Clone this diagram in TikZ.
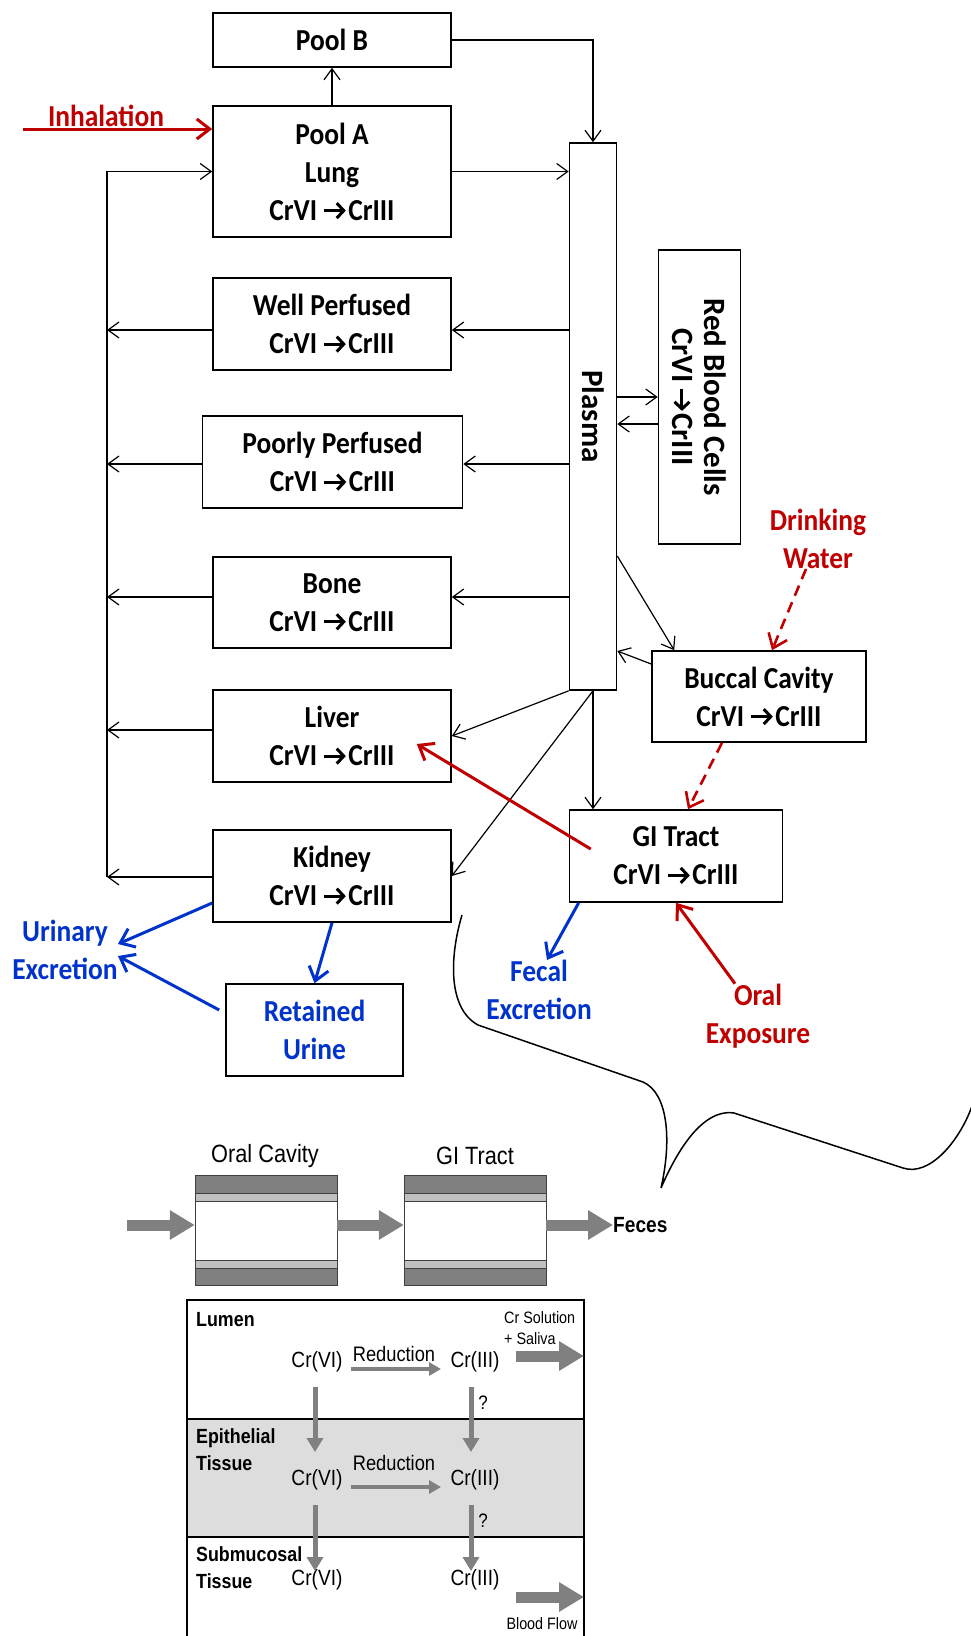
\documentclass[tikz,border=0pt]{standalone}
\usepackage{fontspec}
\usetikzlibrary{arrows.meta,calc}
\newfontfamily\calb[FakeStretch=0.9]{Carlito}
\newfontfamily\calr{Carlito}
\newfontfamily\arn[FakeStretch=0.87]{Liberation Sans}
\definecolor{cred}{RGB}{192,0,0}
\definecolor{cblue}{RGB}{0,51,204}
\definecolor{gA}{RGB}{128,128,128}
\definecolor{gB}{RGB}{192,192,192}
\definecolor{gC}{RGB}{221,221,221}
\newcommand{\myarr}{\tikz[baseline=0pt,x=1pt,y=1pt]{\draw[line width=3pt,-{Straight Barb[length=7pt,width=15pt,line width=3pt]}] (0,9.5) -- (22,9.5);}}
\newcommand{\crx}{CrVI\hspace{5pt}\myarr\hspace{1pt}CrIII}
\begin{document}
\begin{tikzpicture}[x=1pt,y=-1pt,
  tfont/.style={font=\calb\bfseries\fontsize{30.5}{38}\selectfont},
  box/.style={draw, line width=1.6pt, inner sep=0pt, align=center, tfont},
  lab/.style={inner sep=0pt, align=center, tfont},
  arr/.style={line width=1.2pt, -{Straight Barb[length=11pt,width=16pt]}},
  redarr/.style={draw=cred, line width=3pt, -{Straight Barb[length=13pt,width=20pt]}},
  bluearr/.style={draw=cblue, line width=3pt, -{Straight Barb[length=13pt,width=20pt]}},
  dasharr/.style={draw=cred, line width=2.6pt, dash pattern=on 11pt off 7pt, -{Straight Barb[length=13pt,width=20pt]}},
  fat/.style={draw=gA, line width=11pt, -{Triangle[length=25pt,width=28pt]}},
  garr/.style={draw=gA, line width=4pt, -{Triangle[length=12pt,width=13pt]}},
  gdn/.style={draw=gA, line width=5pt, -{Triangle[length=14pt,width=16pt]}},
  atext/.style={inner sep=0pt, font=\arn\fontsize{22}{26}\selectfont},
  abold/.style={inner sep=0pt, anchor=west, align=left, font=\arn\bfseries\fontsize{20.5}{27}\selectfont},
]
\useasboundingbox (0,0) rectangle (970,1636);
\fill[white] (0,0) rectangle (970,1636);

% ---------- boxes ----------
\node[box, minimum width=238pt, minimum height=54pt] (pb) at (332,40) {Pool B};
\node[box, minimum width=238pt, minimum height=131pt] (pa) at (332,171.5) {Pool A\\Lung\\\crx};
\node[box, minimum width=238pt, minimum height=92pt] (wp) at (332,324) {Well Perfused\\\crx};
\node[box, minimum width=260pt, minimum height=92pt] (pp) at (332.5,462) {Poorly Perfused\\\crx};
\node[box, minimum width=238pt, minimum height=91pt] (bo) at (332,602.5) {Bone\\\crx};
\node[box, minimum width=238pt, minimum height=92pt] (li) at (332,736) {Liver\\\crx};
\node[box, minimum width=238pt, minimum height=92pt] (ki) at (332,876) {Kidney\\\crx};
\node[draw, line width=1.6pt, inner sep=0pt, minimum width=47pt, minimum height=547pt] (pl) at (593,416.5) {};
\node[rotate=-90, inner sep=0pt, font=\calr\bfseries\fontsize{31}{32.5}\selectfont] at (pl.center) {Plasma};
\node[draw, line width=1.6pt, inner sep=0pt, minimum width=82pt, minimum height=294pt] (rbc) at (699.5,397) {};
\node[rotate=-90, inner sep=0pt, align=center, font=\calr\bfseries\fontsize{31}{32.5}\selectfont] at (rbc.center) {Red Blood Cells\\\crx};
\node[box, minimum width=214pt, minimum height=91pt] (bc) at (759,696.5) {Buccal Cavity\\\crx};
\node[box, minimum width=213pt, minimum height=92pt] (gi) at (676,856) {GI Tract\\\crx};
\node[box, text=cblue, minimum width=177pt, minimum height=92pt] (ru) at (314.5,1030) {Retained\\Urine};

% ---------- labels ----------
\node[lab, text=cred] (inh) at (106,116) {Inhalation};
\node[lab, text=cred] (dw) at (818,539) {Drinking\\Water};
\node[lab, text=cblue] (ue) at (65,950) {Urinary\\Excretion};
\node[lab, text=cblue] (fe) at (539,990) {Fecal\\Excretion};
\node[lab, text=cred] (oe) at (758,1016) {Oral\\Exposure};

% ---------- black connectors ----------
\draw[arr] (pa.north) -- (pb.south);
\draw[arr] (pb.east) -| (pl.north);
\draw[arr] (pa.east) -- (pa.east -| pl.west);
\coordinate (bt) at (107,171.5);
\coordinate (bb) at (107,877);
\draw[arr] (bb) -- (bt) -- (pa.west);
\foreach \n/\s in {wp/-6,pp/-2,bo/5.5,li/6,ki/-1}{
  \coordinate (tw) at ([yshift=\s pt]\n.west);
  \draw[arr] (tw) -- (tw -| bt);
}
\foreach \n/\s in {wp/-6,pp/-2,bo/5.5}{
  \coordinate (te) at ([yshift=\s pt]\n.east);
  \draw[arr] (te -| pl.west) -- (te);
}
\draw[arr] (pl.south west) -- (li.east);
\draw[arr] (pl.south) -- (ki.east);
\draw[arr] (pl.south) -- (pl.south |- gi.north);
\draw[arr] (rbc.west -| pl.east) -- (rbc.west);
\coordinate (r2) at ([yshift=-27pt]rbc.west);
\draw[arr] (r2) -- (r2 -| pl.east);
\draw[arr] ([yshift=-139.5pt]pl.east) -- ([xshift=23pt]bc.north west);
\draw[arr] ([yshift=32.5pt]bc.west) -- ([yshift=-234.5pt]pl.east);

% ---------- coloured connectors ----------
\coordinate (ih) at (23,129);
\draw[redarr] (ih) -- ([yshift=42.5pt]pa.west);
\draw[dasharr] ([xshift=-12pt]dw.south) -- ([xshift=13pt]bc.north);
\draw[dasharr] ([xshift=-37pt]bc.south) -- ([xshift=12pt]gi.north);
\draw[redarr] ([xshift=22pt,yshift=7pt]gi.west) -- ([xshift=-35pt,yshift=-8pt]li.east);
\draw[redarr] ([xshift=-23pt]oe.north) -- (gi.south);
\draw[bluearr] ([yshift=-27pt]ki.west) -- ([yshift=6pt]ue.east);
\draw[bluearr] ([xshift=-6pt,yshift=20pt]ru.west) -- ([yshift=-6pt]ue.east);
\draw[bluearr] (ki.south) -- (ru.north);
\draw[bluearr] ([xshift=10pt]gi.south west) -- ([xshift=8pt]fe.north);

% ---------- callout curve ----------
\draw[line width=1.5pt] (462,915) .. controls (450,955) and (447,1008) .. (478,1025)
  -- (643,1082) .. controls (668,1093) and (672,1140) .. (661,1188)
  .. controls (674,1158) and (700,1108) .. (734,1113)
  -- (903,1168) .. controls (930,1177) and (960,1140) .. (972,1106);

% ---------- tubes ----------
\foreach \x in {195,404}{
  \fill[gA] (\x,1175) rectangle ++(142,18);
  \fill[gB] (\x,1193) rectangle ++(142,8);
  \fill[gB] (\x,1260) rectangle ++(142,8);
  \fill[gA] (\x,1268) rectangle ++(142,17);
  \draw[line width=0.9pt, black!75] (\x,1175) rectangle ++(142,110);
  \draw[line width=0.9pt, black!75] (\x,1193) -- ++(142,0) (\x,1201) -- ++(142,0)
     (\x,1260) -- ++(142,0) (\x,1268) -- ++(142,0);
}
\node[inner sep=0pt, minimum width=142pt, minimum height=110pt] (oc) at (266,1230) {};
\node[inner sep=0pt, minimum width=142pt, minimum height=110pt] (gt) at (475,1230) {};
\node[atext, font=\arn\fontsize{25}{30}\selectfont] at (265,1156) {Oral Cavity};
\node[atext, font=\arn\fontsize{25}{30}\selectfont] at (475,1156) {GI Tract};
\node[inner sep=0pt, anchor=west, font=\arn\bfseries\fontsize{22}{25}\selectfont] (fc) at (613,1225) {Feces};
\coordinate (in0) at (127,1225);
\draw[fat] (in0) -- ([yshift=5pt]oc.west);
\draw[fat] ([yshift=5pt]oc.east) -- ([yshift=5pt]gt.west);
\draw[fat] ([yshift=5pt]gt.east) -- (fc.west);

% ---------- layered box ----------
\fill[gC] (187,1419) rectangle (584,1537);
\draw[line width=1.6pt] (187,1640) -- (187,1300) -- (584,1300) -- (584,1640);
\draw[line width=1.6pt] (187,1419) -- (584,1419) (187,1537) -- (584,1537);

\node[abold] at (196,1320) {Lumen};
\node[abold] at (196,1449.5) {Epithelial\\Tissue};
\node[abold] at (196,1568) {Submucosal\\Tissue};

\node[atext] (c1) at (317,1362) {Cr(VI)};
\node[atext] (c2) at (475,1362) {Cr(III)};
\node[atext] (e1) at (317,1480) {Cr(VI)};
\node[atext] (e2) at (475,1480) {Cr(III)};
\node[atext] (s1) at (317,1580) {Cr(VI)};
\node[atext] (s2) at (475,1580) {Cr(III)};
\node[atext, font=\arn\fontsize{21}{25}\selectfont] at (394,1354) {Reduction};
\node[atext, font=\arn\fontsize{21}{25}\selectfont] at (394,1463) {Reduction};
\draw[garr] ($(c1)+(34,7)$) -- ($(c2)+(-34,7)$);
\draw[garr] ($(e1)+(34,7)$) -- ($(e2)+(-34,7)$);
\draw[gdn] ($(c1)+(-2,25)$) -- ($(e1)+(-2,-28)$);
\draw[gdn] ($(e1)+(-2,25)$) -- ($(s1)+(-2,-9)$);
\draw[gdn] ($(c2)+(-4,25)$) -- ($(e2)+(-4,-28)$);
\draw[gdn] ($(e2)+(-4,25)$) -- ($(s2)+(-4,-9)$);
\node[atext, font=\arn\fontsize{19.5}{22}\selectfont] at (483,1403) {?};
\node[atext, font=\arn\fontsize{19.5}{22}\selectfont] at (483,1521) {?};

\node[atext, anchor=west, align=left, font=\arn\fontsize{16.5}{21}\selectfont] at (504,1328) {Cr Solution\\+ Saliva};
\coordinate (so1) at (516,1356);
\coordinate (so2) at (584,1356);
\draw[fat] (so1) -- (so2);
\coordinate (bf1) at (516,1597);
\coordinate (bf2) at (584,1597);
\draw[fat] (bf1) -- (bf2);
\node[atext, font=\arn\fontsize{16.5}{21}\selectfont] at (542,1624) {Blood Flow};
\end{tikzpicture}
\end{document}
